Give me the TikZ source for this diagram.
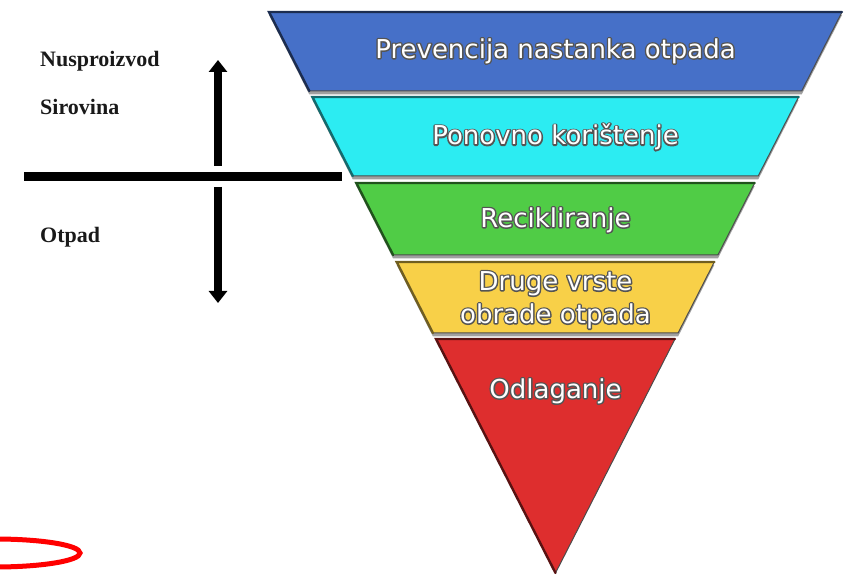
\documentclass[tikz,border=0pt]{standalone}
\usepackage{fontspec}
\usetikzlibrary{arrows.meta}
\newfontfamily\bandfont{DejaVu Sans}
\newfontfamily\lblfont{Liberation Serif}
\definecolor{bblue}{RGB}{70,112,200}
\definecolor{bcyan}{RGB}{44,236,242}
\definecolor{bgreen}{RGB}{80,204,70}
\definecolor{byellow}{RGB}{248,208,72}
\definecolor{bred}{RGB}{222,46,46}
\definecolor{gapgray}{RGB}{160,160,160}
% white text with a grey outline: a stroked layer under a white filled layer
\newcommand{\bandtext}[1]{\rlap{\special{pdf:literal direct 1 Tr 2.8 w 1 j 0.33 0.33 0.33 RG}#1\special{pdf:literal direct 0 Tr 0.4 w}}\textcolor{white}{#1}}
\tikzset{
  band/.style={draw=black!70, line width=1pt, line join=round},
  bedge/.style={line width=2.4pt, line cap=round},
  bshadow/.style={fill=gapgray},
  btext/.style={font=\bandfont\fontsize{26}{33}\selectfont, align=center, inner sep=0pt},
  lbl/.style={font=\lblfont\bfseries\fontsize{22}{26}\selectfont, anchor=base west, inner sep=0pt, text=black!90},
  bigarrow/.style={line width=8pt, -{Triangle[width=18pt,length=12pt]}},
}
\begin{document}
\begin{tikzpicture}[x=1pt,y=-1pt]
\useasboundingbox (0,0) rectangle (849,577);
% shadows (gray gaps)
\foreach \a/\b/\c/\d/\ya/\yb in {269/842/801.7/309.3/12/91, 312.4/798.6/758.2/352.8/97/176, 356.3/754.7/717.9/393.1/183/255, 396.7/714.3/678.1/432.9/262/333}{
  \fill[bshadow] (\a,\ya+3) -- (\b,\ya+3) -- (\c,\yb+3.5) -- (\d,\yb+3.5) -- cycle;
}
% bands
\draw[band, fill=bblue] (269,12) -- (842,12) -- (801.7,91) -- (309.3,91) -- cycle;
\draw[bedge, bblue!40!black] (309.3,91) -- (269,12) -- (842,12);
\draw[band, fill=bcyan] (312.4,97) -- (798.6,97) -- (758.2,176) -- (352.8,176) -- cycle;
\draw[bedge, bcyan!45!black] (352.8,176) -- (312.4,97) -- (798.6,97);
\draw[band, fill=bgreen] (356.3,183) -- (754.7,183) -- (717.9,255) -- (393.1,255) -- cycle;
\draw[bedge, bgreen!40!black] (393.1,255) -- (356.3,183) -- (754.7,183);
\draw[band, fill=byellow] (396.7,262) -- (714.3,262) -- (678.1,333) -- (432.9,333) -- cycle;
\draw[bedge, byellow!45!black] (432.9,333) -- (396.7,262) -- (714.3,262);
\draw[band, fill=bred] (436,339) -- (675,339) -- (555.5,573) -- cycle;
\draw[bedge, bred!40!black] (555.5,573) -- (436,339) -- (675,339);
% left labels
\node[lbl] (n1) at (40,67) {Nusproizvod};
\node[lbl] (n2) at (40,115) {Sirovina};
\node[lbl] (n3) at (40,243) {Otpad};
% divider line
\coordinate (hl) at (24,177);
\coordinate (hr) at (342,177);
\draw[line width=9pt] (hl) -- (hr);
% arrows
\coordinate (upS) at (218,166);
\coordinate (upT) at (218,60);
\coordinate (dnS) at (218,187);
\coordinate (dnT) at (218,303);
\draw[bigarrow] (upS) -- (upT);
\draw[bigarrow] (dnS) -- (dnT);
% red ellipse
\draw[red, line width=5pt] (-5,553) ellipse [x radius=85, y radius=14];
% band texts
\node[btext] (t1) at (555.5,51) {\bandtext{Prevencija nastanka otpada}};
\node[btext] (t2) at (555.5,137) {\bandtext{Ponovno korištenje}};
\node[btext] (t3) at (555.5,220) {\bandtext{Recikliranje}};
\node[btext] (t4) at (555.5,300) {\bandtext{Druge vrste}\\\bandtext{obrade otpada}};
\node[btext] (t5) at (555.5,391) {\bandtext{Odlaganje}};
\end{tikzpicture}
\end{document}
